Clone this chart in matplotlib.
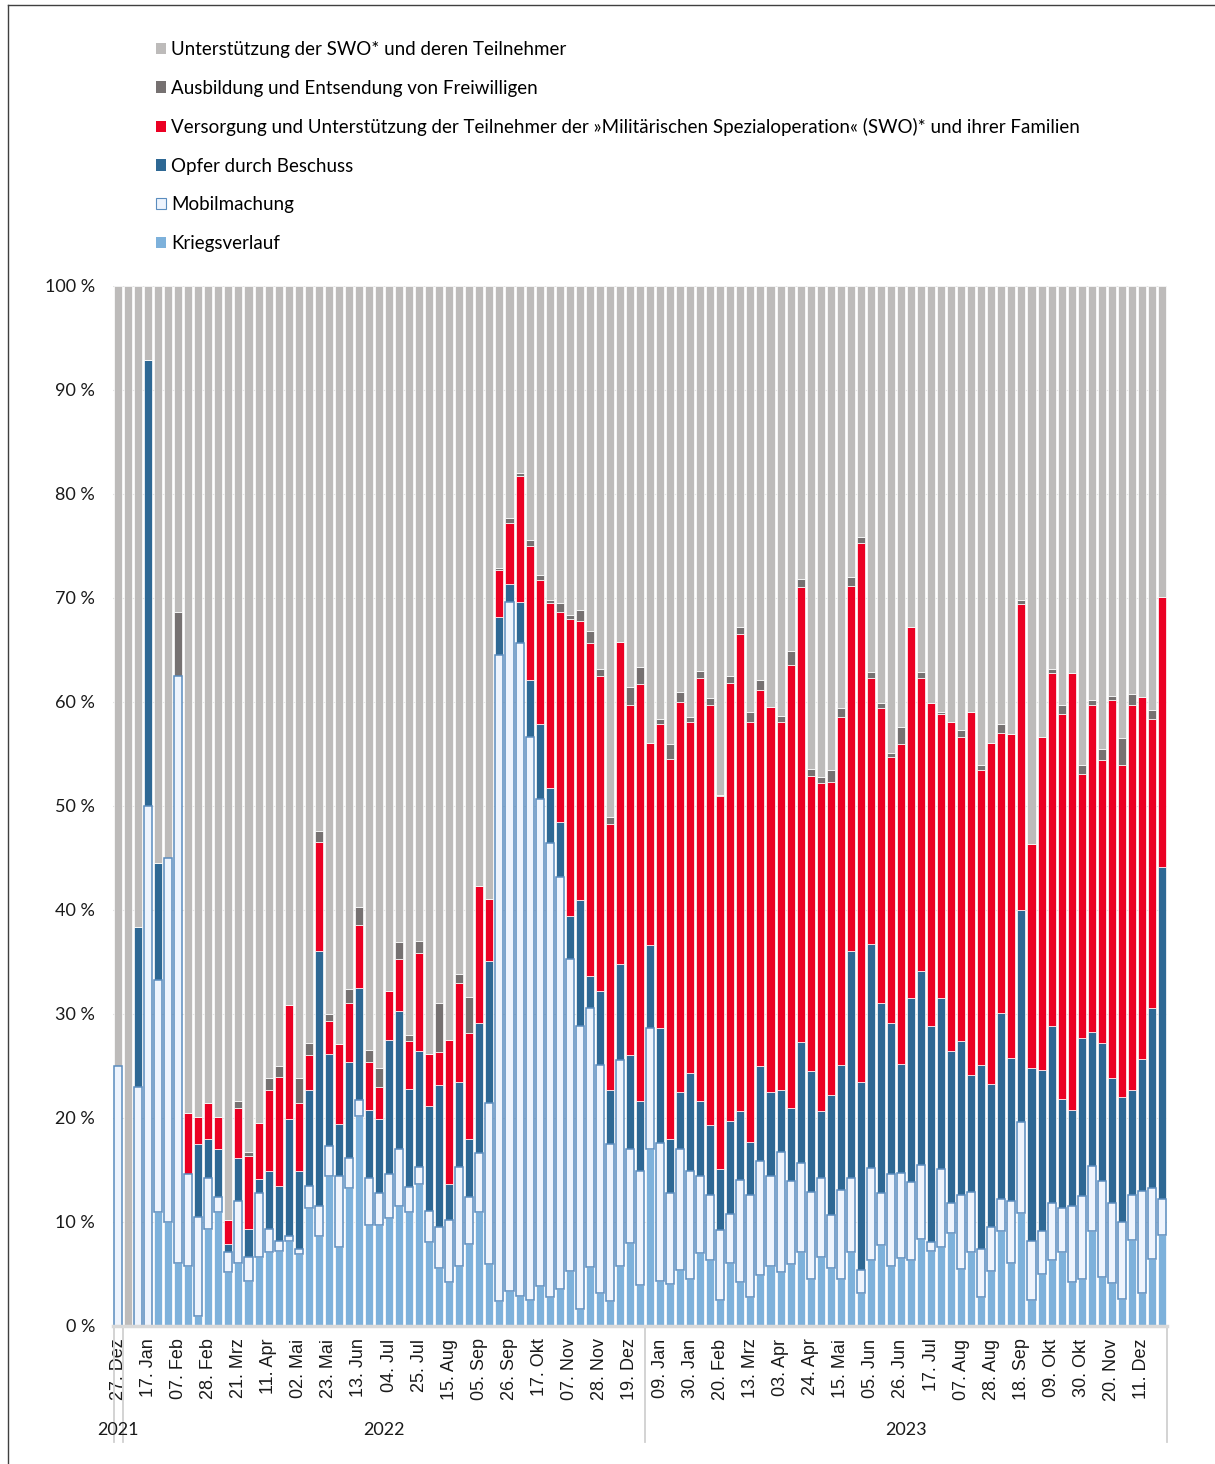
import matplotlib
matplotlib.use("Agg")
import matplotlib.pyplot as plt
import numpy as np
from matplotlib.patches import Patch
from matplotlib.lines import Line2D

plt.rcParams['font.family'] = ['Lato', 'DejaVu Sans']

# Wochenanteile in Prozent, 27.12.2021 bis 25.12.2023 (105 Wochen)
kriegsverlauf = [
    0, 0, 0, 0, 11, 10, 6.1, 5.8, 1, 9.3, 11, 5.2, 6.1, 4.3, 6.6, 7.1, 7.2, 8.2, 6.9, 11.3,
    8.7, 14.4, 7.6, 13.3, 20.2, 9.7, 9.7, 10.4, 11.5, 11.0, 13.7, 8.1, 5.6, 4.2, 5.8, 7.9, 11.0, 6.0, 2.4, 3.4,
    2.9, 2.5, 3.8, 2.8, 3.6, 5.3, 1.6, 5.7, 3.2, 2.4, 5.8, 8.0, 3.9, 17.0, 4.3, 4.0, 5.4, 4.5, 7.0, 6.3,
    2.5, 6.1, 4.2, 2.8, 4.9, 5.8, 5.2, 6.0, 7.1, 4.5, 6.6, 5.6, 4.5, 7.1, 3.2, 6.3, 7.8, 5.8, 6.5, 6.3,
    8.4, 7.2, 7.6, 8.9, 5.5, 7.1, 2.8, 5.3, 9.1, 6.1, 10.9, 2.5, 5.0, 6.3, 7.1, 4.2, 4.5, 9.1, 4.7, 4.1,
    2.6, 8.3, 3.2, 6.4, 8.75]
mobilmachung = [
    25, 0, 23, 50, 22.3, 35, 56.4, 8.8, 9.5, 4.9, 1.4, 1.9, 5.9, 2.3, 6.2, 2.2, 1.0, 0.5, 0.5, 2.2,
    2.8, 2.9, 6.8, 2.9, 1.5, 4.5, 3.1, 4.2, 5.5, 2.4, 1.6, 3.0, 3.9, 6.0, 9.5, 4.5, 5.6, 15.4, 62.1, 66.2,
    62.8, 54.1, 46.9, 43.6, 39.6, 30.0, 27.2, 24.9, 21.9, 15.1, 19.8, 9.0, 11.0, 11.7, 13.3, 8.8, 11.6, 10.4, 7.4, 6.3,
    6.7, 4.7, 9.8, 9.8, 11.0, 8.6, 11.5, 7.9, 8.6, 8.4, 7.6, 5.1, 8.6, 7.1, 2.2, 8.9, 5.0, 8.8, 8.2, 7.5,
    7.1, 0.9, 7.5, 2.9, 7.1, 5.8, 4.6, 4.2, 3.1, 5.9, 8.7, 5.7, 4.1, 5.5, 4.2, 7.3, 8.0, 6.3, 9.2, 7.7,
    7.4, 4.3, 9.8, 6.9, 3.45]
opfer = [
    0, 0, 15.4, 42.9, 11.2, 0, 0, 0, 7, 3.8, 4.6, 0.8, 4.2, 2.7, 1.3, 5.6, 5.3, 11.2, 7.5, 9.2,
    24.6, 8.9, 5.0, 9.2, 10.8, 6.6, 7.1, 12.9, 13.3, 9.4, 11.1, 10.1, 13.7, 3.5, 8.2, 5.6, 12.5, 13.7, 3.7, 1.7,
    3.9, 5.5, 7.2, 5.3, 5.3, 4.1, 12.2, 3.1, 7.1, 5.2, 9.2, 9.1, 6.7, 7.9, 11.1, 5.2, 5.5, 9.4, 7.2, 6.7,
    5.9, 8.9, 6.7, 5.1, 9.1, 8.1, 6.0, 7.1, 11.6, 11.6, 6.5, 11.5, 12.0, 21.9, 18.1, 21.5, 18.3, 14.5, 10.5, 17.7,
    18.6, 20.7, 16.4, 14.6, 14.8, 11.2, 17.7, 13.8, 17.9, 13.8, 20.4, 16.6, 15.5, 17.0, 10.5, 9.3, 15.2, 12.9, 13.3, 12.0,
    12.0, 10.1, 12.7, 17.3, 31.9]
versorgung = [
    0, 0, 0, 0, 0, 0, 0, 5.9, 2.6, 3.4, 3.1, 2.3, 4.8, 7.0, 5.4, 7.8, 10.4, 11.0, 6.5, 3.4,
    10.4, 3.1, 7.7, 5.7, 6.1, 4.6, 3.1, 4.7, 5.0, 4.6, 9.5, 5.0, 3.1, 13.8, 9.5, 10.2, 13.2, 6.0, 4.5, 5.9,
    12.1, 12.9, 13.8, 17.8, 20.2, 28.6, 26.8, 32.0, 30.3, 25.6, 31.0, 33.6, 40.1, 19.5, 29.2, 36.5, 37.5, 33.8, 40.7, 40.4,
    35.9, 42.1, 45.8, 40.4, 36.2, 37.0, 35.4, 42.6, 43.8, 28.4, 31.5, 30.1, 33.5, 35.1, 51.8, 25.6, 28.3, 25.6, 30.8, 35.7,
    28.2, 31.1, 27.3, 31.7, 29.2, 34.9, 28.4, 32.8, 26.9, 31.1, 29.4, 21.5, 32.0, 34.0, 37.0, 42.0, 25.4, 31.4, 27.2, 36.4,
    31.9, 37.0, 34.8, 27.8, 26.0]
ausbildung = [
    0, 0, 0, 0, 0, 0, 6.2, 0, 0, 0, 0, 0, 0.6, 0.4, 0, 1.1, 1.1, 0, 2.4, 1.1,
    1.1, 0.7, 0, 1.3, 1.7, 1.1, 1.8, 0, 1.6, 0.6, 1.1, 0, 4.8, 0, 0.8, 3.4, 0, 0, 0.2, 0.5,
    0.3, 0.6, 0.5, 0.3, 0.8, 0.4, 1.0, 1.1, 0.7, 0.6, 0, 1.7, 1.7, 0, 0.5, 1.5, 1.0, 0.5, 0.7, 0.7,
    0.1, 0.7, 0.7, 0.9, 0.9, 0, 0.6, 1.3, 0.7, 0.7, 0.6, 1.2, 0.8, 0.8, 0.6, 0.6, 0.5, 0.4, 1.6, 0,
    0.6, 0, 0.2, 0, 0.7, 0, 0.4, 0, 0.9, 0, 0.4, 0, 0, 0.4, 0.9, 0, 0.8, 0.5, 1.1, 0.4,
    2.6, 1.1, 0, 0.8, 0]

tick_labels = ["27. Dez", "17. Jan", "07. Feb", "28. Feb", "21. Mrz", "11. Apr", "02. Mai",
               "23. Mai", "13. Jun", "04. Jul", "25. Jul", "15. Aug", "05. Sep", "26. Sep",
               "17. Okt", "07. Nov", "28. Nov", "19. Dez", "09. Jan", "30. Jan", "20. Feb",
               "13. Mrz", "03. Apr", "24. Apr", "15. Mai", "05. Jun", "26. Jun", "17. Jul",
               "07. Aug", "28. Aug", "18. Sep", "09. Okt", "30. Okt", "20. Nov", "11. Dez"]
years = ["2021", "2022", "2023"]
year_first_week = [0, 1, 53]
year_last_week = [0, 52, 104]

labels = ["Kriegsverlauf",
          "Mobilmachung",
          "Opfer durch Beschuss",
          "Versorgung und Unterstützung der Teilnehmer der »Militärischen Spezialoperation« (SWO)* und ihrer Familien",
          "Ausbildung und Entsendung von Freiwilligen",
          "Unterstützung der SWO* und deren Teilnehmer"]
colors = ["#7DB1DB", "#EEF4FD", "#2E6894", "#EB0023", "#767171", "#BDBBBA"]

k = np.array(kriegsverlauf)
m = np.array(mobilmachung)
o = np.array(opfer)
v = np.array(versorgung)
a = np.array(ausbildung)
u = 100 - (k + m + o + v + a)
series = [k, m, o, v, a, u]

fig = plt.figure(figsize=(12.15, 14.64), dpi=100)
ax = fig.add_axes([113 / 1215, 1 - 1326 / 1464, 1054 / 1215, 1040 / 1464])

x = np.arange(len(k))
bottom = np.zeros(len(k))
handles = []
for vals, col, lab in zip(series, colors, labels):
    if lab == "Mobilmachung":
        ax.bar(x, vals, 0.8, bottom=bottom, color=col,
               edgecolor="#5A8CBE", linewidth=np.where(vals > 0, 1.1, 0), zorder=4)
        handles.append(Patch(facecolor=col, edgecolor="#5A8CBE", linewidth=0.8, label=lab))
    else:
        ax.bar(x, vals, 0.8, bottom=bottom, color=col,
               edgecolor="white", linewidth=0.5, zorder=3)
        handles.append(Patch(facecolor=col, edgecolor="none", label=lab))
    bottom += vals

ax.set_xlim(-0.5, len(k) - 0.5)
ax.set_ylim(0, 100)
ax.set_yticks(np.arange(0, 101, 10))
ax.set_yticklabels([f"{t} %" for t in range(0, 101, 10)])
ax.set_xticks(np.arange(0, len(k), 3))
ax.set_xticklabels(tick_labels, rotation=90, ha="center", va="top",
                   family=["Liberation Sans", "DejaVu Sans"])
ax.tick_params(axis="both", length=0, labelsize=13, colors="#1A1A1A")
ax.tick_params(axis="y", pad=13)
ax.tick_params(axis="x", pad=9)
ax.yaxis.grid(True, color="#E4E4E4", linewidth=0.8, zorder=0)
ax.set_axisbelow(True)
for s in ["top", "right", "left"]:
    ax.spines[s].set_visible(False)
ax.spines["bottom"].set_color("#D9D9D9")
ax.spines["bottom"].set_linewidth(2.5)
ax.spines["bottom"].set_zorder(5)

# Jahresbeschriftung mit Trennlinien
trans = ax.get_xaxis_transform()
seps = sorted(set([-0.4] + [l + 0.5 for l in year_last_week]))
for s in seps:
    ax.plot([s, s], [0, -0.112], transform=trans, color="#D0D0D0", linewidth=1.3, clip_on=False)
for yr, f, l in zip(years, year_first_week, year_last_week):
    ax.text((f + l) / 2, -0.1, yr, transform=trans, ha="center", va="center",
            fontsize=13, color="#1A1A1A")

fig.legend(handles=handles[::-1], loc="upper left",
           bbox_to_anchor=(156 / 1215, 1 - 41 / 1464), frameon=False,
           fontsize=13.5, handlelength=0.55, handleheight=0.55, handletextpad=0.25,
           labelspacing=1.15, borderpad=0, borderaxespad=0)

# Rahmen
fig.add_artist(Line2D([8 / 1215, 1], [1 - 5 / 1464, 1 - 5 / 1464], color="#404040", linewidth=1))
fig.add_artist(Line2D([8 / 1215, 8 / 1215], [0, 1 - 5 / 1464], color="#404040", linewidth=1))

fig.savefig("out.png", dpi=100)
